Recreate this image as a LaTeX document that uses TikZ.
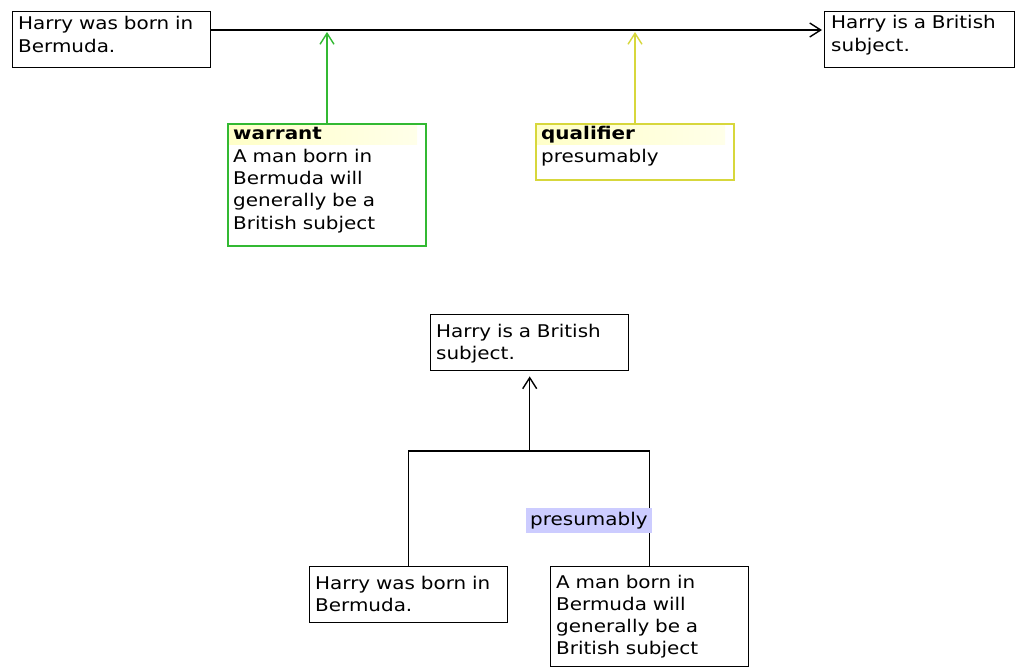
\documentclass[tikz,border=0pt]{standalone}
\usepackage{fontspec}
\newfontfamily\djf[FakeStretch=1.14]{DejaVu Sans}
\usetikzlibrary{arrows.meta,calc}
\definecolor{wgreen}{RGB}{50,185,50}
\definecolor{qyellow}{RGB}{215,215,60}
\definecolor{hdr}{RGB}{255,255,200}
\definecolor{lblue}{RGB}{204,204,255}
\tikzset{
  box/.style={draw=black, line width=1.4pt, anchor=north west, inner sep=0pt, minimum width=198pt},
  cbox/.style={draw=#1, line width=2pt, anchor=north west, inner sep=0pt, minimum width=198pt},
  txt/.style={anchor=base west, inner sep=0pt, text width=190pt, align=left, text=black,
    font=\djf\fontsize{17.5pt}{22.3pt}\selectfont},
  conn/.style={line width=1.4pt, draw=black},
  tip/.style={-{Straight Barb[length=11pt,width=14pt,line width=1.4pt]}},
  hband/.style={left color=hdr, right color=hdr!40!white, draw=none, anchor=north west, inner sep=0pt, minimum width=188pt, minimum height=19pt},
  lbl/.style={fill=lblue, inner xsep=4pt, inner ysep=4pt, anchor=base west, font=\djf\fontsize{17.5pt}{22.3pt}\selectfont}
}
\begin{document}
\begin{tikzpicture}[x=1pt,y=1pt]
\useasboundingbox[fill=white] (0,0) rectangle (1016,-671);
% top diagram
\coordinate (L) at (0,-30);
\node[box, minimum height=56pt] (A) at (12,-11) {};
\node[txt] (At) at (18,-30) {Harry was born in\\Bermuda.};
\node[box, minimum height=56pt, minimum width=190pt] (B) at (824,-11) {};
\node[txt] (Bt) at (831,-29) {Harry is a British\\subject.};
\draw[conn, tip] (A.east |- L) -- ([xshift=-2pt]B.west |- L);

\node[hband] (Wh) at (229,-125) {};
\node[cbox=wgreen, minimum height=122pt] (W) at (227,-123) {};
\node[txt] (Wt) at (233,-140) {\bfseries warrant\\\mdseries A man born in\\Bermuda will\\generally be a\\British subject};
\draw[wgreen, line width=1.8pt, tip] (W.north) -- ([yshift=-2pt]W.north |- L);

\node[hband] (Qh) at (537,-125) {};
\node[cbox=qyellow, minimum height=56pt] (Q) at (535,-123) {};
\node[txt] (Qt) at (541,-140) {\bfseries qualifier\\\mdseries presumably};
\draw[qyellow, line width=1.8pt, tip] (Q.north) -- ([yshift=-2pt]Q.north |- L);

% bottom diagram
\coordinate (J) at (528,-451);
\node[box, minimum height=56pt] (C) at (430,-314) {};
\node[txt] (Ct) at (436,-337) {Harry is a British\\subject.};
\node[box, minimum height=56pt] (D) at (309,-566) {};
\node[txt] (Dt) at (315,-589) {Harry was born in\\Bermuda.};
\node[box, minimum height=100pt] (E) at (550,-566) {};
\node[txt] (Et) at (556,-588) {A man born in\\Bermuda will\\generally be a\\British subject};
\draw[conn] (D.north) |- (E.north |- J) -- (E.north);
\draw[conn, tip] (C.south |- J) -- ([yshift=-5pt]C.south);
\node[lbl] (P) at (526,-525) {presumably};
\end{tikzpicture}
\end{document}
